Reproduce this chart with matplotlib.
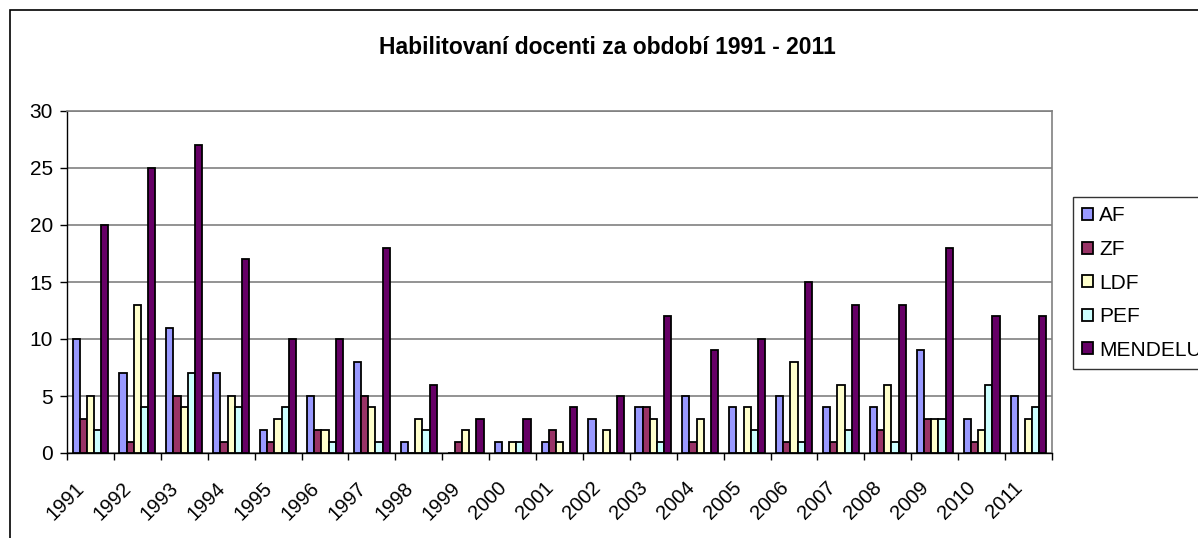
import matplotlib.pyplot as plt
import matplotlib.transforms as mtransforms
from matplotlib.patches import Rectangle
import numpy as np

plt.rcParams['font.family'] = ['Liberation Sans', 'DejaVu Sans']

years = [str(y) for y in range(1991, 2012)]
series = ['AF', 'ZF', 'LDF', 'PEF', 'MENDELU']
af = [10, 7, 11, 7, 2, 5, 8, 1, 0, 1, 1, 3, 4, 5, 4, 5, 4, 4, 9, 3, 5]
zf = [3, 1, 5, 1, 1, 2, 5, 0, 1, 0, 2, 0, 4, 1, 0, 1, 1, 2, 3, 1, 0]
ldf = [5, 13, 4, 5, 3, 2, 4, 3, 2, 1, 1, 2, 3, 3, 4, 8, 6, 6, 3, 2, 3]
pef = [2, 4, 7, 4, 4, 1, 1, 2, 0, 1, 0, 0, 1, 0, 2, 1, 2, 1, 3, 6, 4]
mendelu = [20, 25, 27, 17, 10, 10, 18, 6, 3, 3, 4, 5, 12, 9, 10, 15, 13, 13, 18, 12, 12]
values = [af, zf, ldf, pef, mendelu]
colors = ['#9999FF', '#993366', '#FFFFCC', '#CCFFFF', '#660066']

fig = plt.figure(figsize=(11.98, 5.38), dpi=100)
ax = fig.add_axes([67 / 1198, 85 / 538, (1052 - 67) / 1198, (453 - 111) / 538])

x = np.arange(len(years))
w = 0.153
for k, (name, vals, c) in enumerate(zip(series, values, colors)):
    ax.bar(x + (k - 2) * w, vals, w, color=c, edgecolor='black', linewidth=1.3, label=name, zorder=3)

ax.set_xlim(-0.5, len(years) - 0.5)
ax.set_ylim(0, 30)
ax.set_yticks(range(0, 31, 5))
ax.yaxis.grid(True, color='#808080', linewidth=1.2, zorder=0)
ax.tick_params(axis='y', direction='out', length=5, labelsize=15, pad=5, width=1)

# ticks at category boundaries, labels rotated
ax.set_xticks(np.arange(len(years) + 1) - 0.5)
ax.set_xticklabels(years + [''], rotation=45, ha='right', rotation_mode='anchor', fontsize=14.5)
ax.tick_params(axis='x', direction='out', length=5, pad=6, width=1)
offset = mtransforms.ScaledTranslation(8 / 100, -10 / 100, fig.dpi_scale_trans)
for lab in ax.get_xticklabels():
    lab.set_transform(lab.get_transform() + offset)

for s in ['top', 'right']:
    ax.spines[s].set_color('#808080')
    ax.spines[s].set_linewidth(1.2)
ax.spines['left'].set_linewidth(1)
ax.spines['bottom'].set_linewidth(1)

fig.text(607 / 1198, 1 - 47 / 538, 'Habilitovaní docenti za období 1991 - 2011',
         ha='center', va='center', fontsize=16.5, fontweight='bold')

leg = fig.legend(loc='upper left', bbox_to_anchor=(1073 / 1198, 1 - 197 / 538), fontsize=15,
                 frameon=True, fancybox=False, edgecolor='black', handlelength=0.5, handleheight=0.5,
                 handletextpad=0.3, labelspacing=0.7, borderpad=0.45, borderaxespad=0)
leg.get_frame().set_linewidth(1)

fig.add_artist(Rectangle((9.5 / 1198, -0.1), 1.2, 1 - 10 / 538 + 0.1, transform=fig.transFigure,
                         fill=False, edgecolor='black', linewidth=1.2, clip_on=False))

fig.savefig('out.png', dpi=100)
